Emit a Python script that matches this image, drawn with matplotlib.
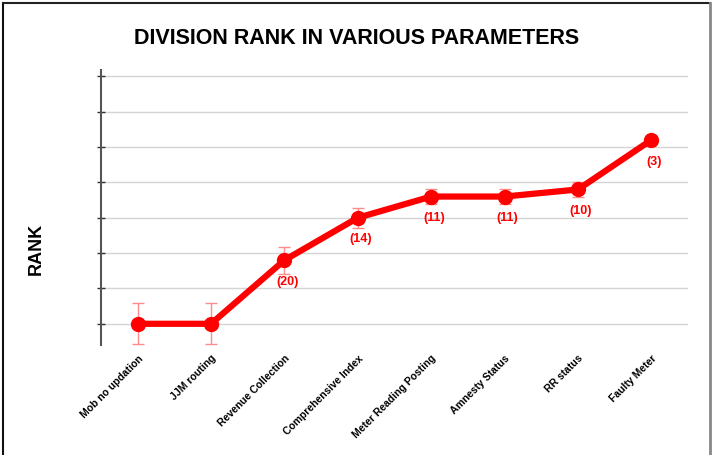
import matplotlib
matplotlib.use("Agg")
import matplotlib.pyplot as plt
from matplotlib.lines import Line2D
import numpy as np

plt.rcParams['font.family'] = ['Liberation Sans', 'DejaVu Sans']

categories = ['Mob no updation', 'JJM routing', 'Revenue Collection',
              'Comprehensive Index', 'Meter Reading Posting', 'Amnesty Status',
              'RR status', 'Faulty Meter']
ranks = [29, 29, 20, 14, 11, 11, 10, 3]
rank_err = [2.9, 2.9, 1.9, 1.4, 1.05, 1.05, 1.0, 0.5]
labels = ['', '', '(20)', '(14)', '(11)', '(11)', '(10)', '(3)']

W, H = 721, 455
fig = plt.figure(figsize=(W / 100, H / 100), dpi=100)
ax = fig.add_axes([101 / W, 1 - 345 / H, (688 - 101) / W, (345 - 70) / H])

x = np.arange(len(categories))

ax.errorbar(x, ranks, yerr=rank_err, fmt='none', ecolor='#ff8a8a',
            elinewidth=1, capsize=4, capthick=1, zorder=2)
ax.plot(x, ranks, color='#ff0000', lw=4.5, marker='o', markersize=10,
        zorder=3)

for xi, yi, lab in zip(x, ranks, labels):
    if lab:
        ax.annotate(lab, (xi, yi), xytext=(2, -15.5), textcoords='offset points',
                    ha='center', va='center', color='#ff0000',
                    fontsize=9, fontweight='bold')

ax.set_xlim(-0.5, 7.5)
ax.set_ylim(32.0, -6.9)
ax.set_yticks(np.arange(29, -7, -5))
ax.set_yticklabels([])
ax.yaxis.grid(True, color='#d4d4d4', lw=1)
ax.set_axisbelow(True)

ax.set_xticks(x)
ax.set_xticklabels(categories, rotation=45, ha='right', rotation_mode='anchor',
                   fontsize=7.5, fontweight='bold')
ax.tick_params(axis='x', length=0, pad=6)
ax.tick_params(axis='y', direction='inout', length=6, width=1, color='#333333')

for side in ['top', 'right', 'bottom']:
    ax.spines[side].set_visible(False)
ax.spines['left'].set_color('#555555')
ax.spines['left'].set_linewidth(1.5)

fig.text(357 / W, 1 - 39 / H, 'DIVISION RANK IN VARIOUS PARAMETERS',
         ha='center', va='center', fontsize=15.5, fontweight='bold')
fig.text(36 / W, 1 - 249 / H, 'RANK', rotation=90, ha='center', va='center',
         fontsize=13, fontweight='bold')

# frame around the picture (left, top, right)
fig.add_artist(Line2D([2.5 / W, 2.5 / W], [0, 1 - 2.5 / H], color='#111111',
                      lw=1.5, transform=fig.transFigure))
fig.add_artist(Line2D([2.5 / W, 710 / W], [1 - 2.5 / H, 1 - 2.5 / H],
                      color='#222222', lw=1.5, transform=fig.transFigure))
fig.add_artist(Line2D([710 / W, 710 / W], [0, 1 - 2.5 / H], color='#888888',
                      lw=2, transform=fig.transFigure))

fig.savefig('out.png', dpi=100)
